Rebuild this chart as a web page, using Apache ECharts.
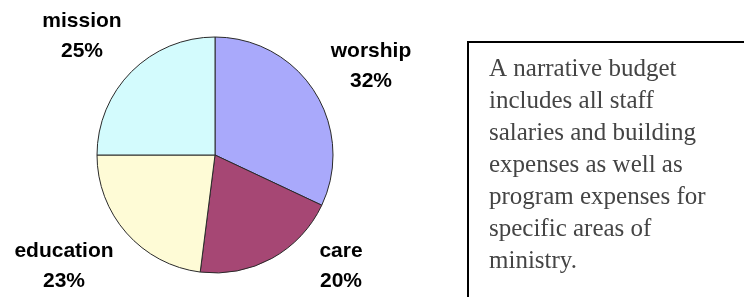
<!DOCTYPE html>
<html>
<head>
<meta charset="utf-8">
<script src="https://cdn.jsdelivr.net/npm/echarts@6/dist/echarts.min.js"></script>
<style>
html,body{margin:0;padding:0;background:#fff;}
#chart{width:744px;height:297px;}
</style>
</head>
<body>
<div id="chart"></div>
<script>
// ---- data ----
var categories = ['worship', 'care', 'education', 'mission'];
var values = [32, 20, 23, 25];
var noteLines = [
  'A narrative budget',
  'includes all staff',
  'salaries and building',
  'expenses as well as',
  'program expenses for',
  'specific areas of',
  'ministry.'
];

// ---- styles ----
var sliceColors = ['#A9A9FB', '#A64774', '#FEFBD6', '#D3FBFD'];
var labelAnchors = [[371, 66], [341, 266], [64, 266], [82, 36]];

var chart = echarts.init(document.getElementById('chart'), null, {renderer: 'canvas'});
chart.setOption({
  animation: false,
  backgroundColor: '#ffffff',
  series: [{
    type: 'pie',
    center: [215, 155],
    radius: 118,
    startAngle: 90,
    clockwise: true,
    silent: true,
    data: categories.map(function (c, i) {
      return { name: c, value: values[i], itemStyle: { color: sliceColors[i] } };
    }),
    itemStyle: { borderColor: '#2a2a2a', borderWidth: 1 },
    label: {
      show: true,
      position: 'inside',
      formatter: '{b}\n{d}%',
      fontFamily: 'Liberation Sans, Arial, sans-serif',
      fontWeight: 'bold',
      fontSize: 21,
      lineHeight: 30,
      color: '#000',
      align: 'center',
      overflow: 'none'
    },
    labelLine: { show: false },
    labelLayout: function (p) {
      var a = labelAnchors[p.dataIndex];
      return { x: a[0], y: a[1], align: 'center', verticalAlign: 'middle' };
    }
  }],
  graphic: [
    {
      type: 'rect',
      shape: { x: 468, y: 42, width: 300, height: 300 },
      style: { fill: '#fff', stroke: '#000', lineWidth: 2 }
    },
    {
      type: 'text',
      x: 489,
      y: 53,
      style: {
        text: noteLines.join('\n'),
        font: '25px "Liberation Serif", "Times New Roman", serif',
        lineHeight: 32,
        fill: '#444',
        verticalAlign: 'top',
        align: 'left'
      }
    }
  ]
});
</script>
</body>
</html>
